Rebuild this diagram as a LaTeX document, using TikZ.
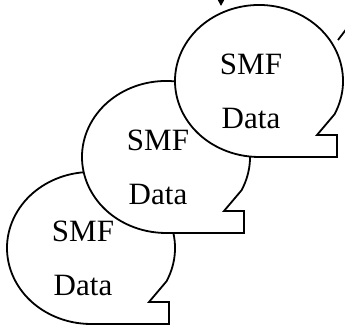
\documentclass[tikz,border=0pt]{standalone}
\usepackage{fontspec}
\setmainfont{Liberation Serif}
\usetikzlibrary{arrows.meta,calc}

\tikzset{
  bubble/.style={draw=black, fill=white, line width=1.8pt, line join=miter},
  label/.style={anchor=base, inner sep=0pt, font=\fontsize{31}{37}\selectfont},
  stub/.style={draw=black, line width=1.8pt},
}

% speech bubble centred at the given coordinate: elliptic body, squared tail at lower right
\newcommand{\speechbubble}[1]{%
  \draw[bubble, shift={(#1)}] (75.5,-33.3)
    arc[start angle=-26, end angle=270, x radius=84, y radius=76]
    -- (78,-76) -- (78,-54) -- (58,-54) -- cycle;
  \node[label] (#1-top) at ($(#1)+(-8,7)$) {SMF};
  \node[label] (#1-bot) at ($(#1)+(-8,-47)$) {Data};
}

\begin{document}
\begin{tikzpicture}[x=1pt, y=1pt]
  \useasboundingbox (0,0) rectangle (345,325);

  \coordinate (lowbub) at (91,77);
  \coordinate (midbub) at (166,168);
  \coordinate (highbub) at (259,244);

  \speechbubble{lowbub}
  \speechbubble{midbub}
  \speechbubble{highbub}

  % incoming connectors running off the top edge
  \coordinate (inA) at (221,340);
  \coordinate (tipA) at (221,319);
  \draw[stub, -{Triangle[width=6pt, length=6pt]}] (inA) -- (tipA);

  \coordinate (inB) at (354,306);
  \coordinate (endB) at (338,285);
  \draw[stub] (inB) -- (endB);
\end{tikzpicture}
\end{document}
